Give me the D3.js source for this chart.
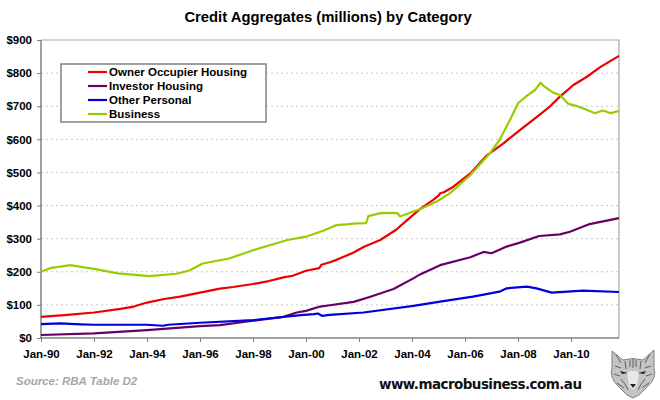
<!DOCTYPE html>
<html>
<head>
<meta charset="utf-8">
<script src="https://cdn.jsdelivr.net/npm/d3@7"></script>
<style>
  body { margin: 0; background: #ffffff; }
  text { font-family: "Liberation Sans", Arial, sans-serif; }
</style>
</head>
<body>
<script>
// series values as [decimal year, $ millions]
var ownerOccupier = [[1990,64],[1991,70],[1992,77],[1993,88],[1993.5,95],[1994,107],[1994.6,117],
  [1995.25,125],[1996,137],[1996.75,149],[1997.25,154],[1998,163],[1998.6,172],[1999.15,183],
  [1999.5,188],[2000,203],[2000.5,211],[2000.58,221],[2000.9,229],[2001.15,236],[2001.8,258],
  [2002.17,275],[2002.8,296],[2003.4,327],[2003.9,362],[2004.3,389],[2004.8,417],[2005.0,430],
  [2005.06,437],[2005.2,440],[2005.56,457],[2006.2,497],[2006.8,550],[2007.45,588],[2008.07,628],
  [2008.7,667],[2009.2,699],[2009.58,729],[2010.09,764],[2010.6,789],[2011.1,818],[2011.81,852]];

var investorHousing = [[1990,9],[1992,14],[1994,24],[1996,36],[1996.75,39],[1998,52],[1999.15,64],
  [1999.65,77],[2000,82],[2000.53,95],[2000.9,99],[2001.8,109],[2002.4,124],[2003.3,148],
  [2004.05,180],[2004.3,192],[2005.06,220],[2006.2,244],[2006.7,260],[2007.0,256],[2007.57,276],
  [2008.07,288],[2008.8,308],[2009.58,313],[2009.96,321],[2010.7,344],[2011.81,362]];

var otherPersonal = [[1990,42],[1990.7,44],[1991.5,41],[1992,40],[1994,40],[1994.6,37],[1994.8,40],
  [1996,46],[1998,54],[1999.8,69],[2000.3,72],[2000.45,74],[2000.6,67],[2000.9,70],[2002.17,77],
  [2004.05,97],[2005.06,110],[2006.3,125],[2007.3,140],[2007.57,150],[2008.33,155],[2008.7,150],
  [2009.27,137],[2010.46,143],[2011.81,139]];

var business = [[1990,200],[1990.4,212],[1991.1,220],[1992,209],[1992.9,195],[1994.1,187],
  [1995.1,194],[1995.6,204],[1996.1,225],[1997.1,240],[1998,265],[1999.3,296],[2000,306],
  [2000.65,324],[2001.15,341],[2001.5,343],[2001.9,346],[2002.27,347],[2002.35,368],[2002.8,377],
  [2003.2,378],[2003.45,377],[2003.55,367],[2004.05,382],[2004.3,389],[2004.93,412],[2005.43,437],
  [2006.2,492],[2006.94,558],[2007.3,598],[2007.7,659],[2008.0,709],[2008.33,731],[2008.64,749],
  [2008.85,771],[2009,759],[2009.33,741],[2009.58,734],[2009.9,707],[2010.2,701],[2010.45,694],
  [2010.9,679],[2011.2,687],[2011.5,679],[2011.81,686]];

var seriesNames = ["Owner Occupier Housing", "Investor Housing", "Other Personal", "Business"];
var seriesColours = ["#ee0000", "#660066", "#0000dd", "#99cc00"];
var seriesData = [ownerOccupier, investorHousing, otherPersonal, business];

var tickYears = [1990,1992,1994,1996,1998,2000,2002,2004,2006,2008,2010];
var tickLabels = ["Jan-90","Jan-92","Jan-94","Jan-96","Jan-98","Jan-00","Jan-02","Jan-04","Jan-06","Jan-08","Jan-10"];
var yTicks = [0,100,200,300,400,500,600,700,800,900];

var holder = d3.select("body")
    .append("svg")
    .attr("width", 660)
    .attr("height", 400);

var plotLeft = 41, plotRight = 619, plotTop = 40, plotBottom = 338;

var x = d3.scaleLinear().domain([1990, 2011.81]).range([plotLeft, plotRight]);
var y = d3.scaleLinear().domain([0, 900]).range([plotBottom, plotTop]);

// title
holder.append("text")
    .attr("x", 328)
    .attr("y", 22)
    .attr("text-anchor", "middle")
    .style("font-size", "14.8px")
    .style("font-weight", "bold")
    .text("Credit Aggregates (millions) by Category");

// dotted gridlines
holder.append("g")
    .selectAll("line")
    .data(yTicks.filter(function(d){ return d > 0 && d < 900; }))
    .enter().append("line")
    .attr("x1", plotLeft).attr("x2", plotRight)
    .attr("y1", function(d){ return y(d); })
    .attr("y2", function(d){ return y(d); })
    .attr("stroke", "#c8c8c8")
    .attr("stroke-dasharray", "2,3");

// plot frame top + right
holder.append("path")
    .attr("d", "M" + plotLeft + "," + plotTop + "H" + plotRight + "V" + plotBottom)
    .attr("fill", "none")
    .attr("stroke", "#a8a8a8")
    .attr("stroke-width", 1.2);

// y axis
var yAxis = holder.append("g")
    .attr("transform", "translate(" + plotLeft + ",0)")
    .call(d3.axisLeft(y).tickValues(yTicks).tickSize(4).tickPadding(5)
          .tickFormat(function(d){ return "$" + d; }));

// x axis
var xAxis = holder.append("g")
    .attr("transform", "translate(0," + plotBottom + ")")
    .call(d3.axisBottom(x).tickValues(tickYears).tickSize(4).tickPadding(8)
          .tickFormat(function(d, i){ return tickLabels[i]; }));

[yAxis, xAxis].forEach(function(a) {
    a.select(".domain").attr("stroke", "#808080").attr("stroke-width", 1.5);
    a.selectAll(".tick line").attr("stroke", "#808080");
    a.selectAll("text")
        .style("font-family", "'Liberation Sans', Arial, sans-serif")
        .style("font-size", "11.5px")
        .style("font-weight", "bold")
        .attr("fill", "#000");
});
xAxis.select(".domain").attr("d", "M" + plotLeft + ",0H" + plotRight);
yAxis.select(".domain").attr("d", "M0," + plotTop + "V" + plotBottom);

// series lines
var line = d3.line()
    .x(function(d){ return x(d[0]); })
    .y(function(d){ return y(d[1]); });

holder.append("g")
    .selectAll("path")
    .data(seriesData)
    .enter().append("path")
    .attr("d", line)
    .attr("fill", "none")
    .attr("stroke", function(d, i){ return seriesColours[i]; })
    .attr("stroke-width", 2.2)
    .attr("stroke-linejoin", "round");

// legend
var legend = holder.append("g");
legend.append("rect")
    .attr("x", 61).attr("y", 64)
    .attr("width", 205).attr("height", 58)
    .attr("fill", "#fff")
    .attr("stroke", "#808080")
    .attr("stroke-width", 1.5);

var entry = legend.selectAll(".entry")
    .data(seriesNames)
    .enter().append("g")
    .attr("class", "entry")
    .attr("transform", function(d, i){ return "translate(0," + (72 + i * 14) + ")"; });

entry.append("line")
    .attr("x1", 88).attr("x2", 107)
    .attr("y1", 0).attr("y2", 0)
    .attr("stroke", function(d, i){ return seriesColours[i]; })
    .attr("stroke-width", 2.2);

entry.append("text")
    .attr("x", 109)
    .attr("y", 4)
    .style("font-size", "11.5px")
    .style("font-weight", "bold")
    .text(function(d){ return d; });

// source note
holder.append("text")
    .attr("x", 16)
    .attr("y", 385)
    .style("font-size", "11.5px")
    .style("font-weight", "bold")
    .style("font-style", "italic")
    .attr("fill", "#a6a6a6")
    .text("Source: RBA Table D2");

// site name
holder.append("text")
    .attr("x", 379)
    .attr("y", 389)
    .attr("textLength", 203)
    .style("font-family", "'DejaVu Sans', Verdana, sans-serif")
    .style("font-size", "13.5px")
    .style("font-weight", "bold")
    .attr("fill", "#111")
    .text("www.macrobusiness.com.au");

// wolf head logo (rough pencil sketch)
var wolf = holder.append("g").attr("transform", "translate(633,374)");
wolf.append("path")
    .attr("d", "M-21,-23 L-10,-14 Q0,-17 10,-14 L21,-24 L21,-6 Q24,4 15,12 L6,21 L0,24 L-6,21 L-15,12 Q-24,3 -21,-6 Z")
    .attr("fill", "#c4c4c4")
    .attr("stroke", "#6a6a6a")
    .attr("stroke-width", 0.8);
wolf.append("path")
    .attr("d", "M-6,-2 Q0,-4 6,-2 L4,12 L0,16 L-4,12 Z")
    .attr("fill", "#e8e8e8");
wolf.append("path")
    .attr("d", "M-17,-19 L-12,-11 M17,-20 L12,-11 M-18,-8 L-12,-6 M18,-8 L12,-6 M-19,0 L-13,2 M19,0 L13,2 " +
               "M-8,-13 L-7,-5 M8,-13 L7,-5 M0,-15 L0,-6 M-3,-14 L-3,-7 M3,-14 L3,-7 " +
               "M-12,5 Q-8,9 -5,16 M12,5 Q8,9 5,16 M-16,9 L-9,14 M16,9 L9,14")
    .attr("fill", "none")
    .attr("stroke", "#555")
    .attr("stroke-width", 0.9);
wolf.append("path")
    .attr("d", "M-13,-3 L-5,-1 L-11,0 Z M13,-3 L5,-1 L11,0 Z M-3,10 L3,10 L0,14 Z")
    .attr("fill", "#222");
</script>
</body>
</html>
